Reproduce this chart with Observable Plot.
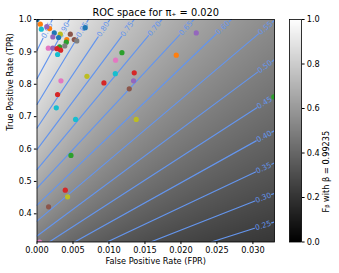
<!DOCTYPE html>
<html><head><meta charset="utf-8">
<script src="https://cdn.jsdelivr.net/npm/d3@7"></script>
<script src="https://cdn.jsdelivr.net/npm/@observablehq/plot@0.6"></script>
<style>
html,body{margin:0;padding:0;background:#fff;}
#wrap{position:relative;width:339px;height:273px;overflow:hidden;}
#wrap svg{position:absolute;left:0;top:0;}
</style></head>
<body><div id="wrap"></div>
<script>
// ---- data ----
const PI_POS = 0.020;
const BETA = 0.99235;
const XMAX = 0.033;
const YMIN = 0.313;
const levels = [0.25,0.30,0.35,0.40,0.45,0.50,0.55,0.60,0.65,0.70,0.75,0.80,0.85,0.90,0.95];
const xTicks = [0,0.005,0.010,0.015,0.020,0.025,0.030];
const yTicks = [0.4,0.5,0.6,0.7,0.8,0.9,1.0];
const cbTicks = [0,0.2,0.4,0.6,0.8,1.0];
const fpr = [0.0000,0.00046,0.00175,0.00136,0.0006,0.0024,0.00324,0.00463,0.0022,0.0030,
  0.00414,0.00518,0.00553,0.00407,0.00386,0.00314,0.00157,0.0022,0.00278,0.00328,
  0.00286,0.0067,0.00333,0.00286,0.00268,0.00536,0.00694,0.0093,0.0118,0.01092,
  0.01088,0.01351,0.01342,0.01282,0.01379,0.02213,0.01935,0.0329,0.00472,0.00393,
  0.00425,0.00161,0.00036];
const tpr = [1.000,0.9855,0.972,0.978,0.970,0.9586,0.9546,0.9546,0.9463,0.9444,
  0.9383,0.9383,0.934,0.930,0.9185,0.9154,0.9114,0.9114,0.910,0.9052,
  0.892,0.9747,0.8105,0.7685,0.7272,0.6914,0.8244,0.8043,0.8975,0.8744,
  0.8327,0.8352,0.8105,0.7858,0.6914,0.9586,0.8898,0.761,0.5802,0.4731,
  0.4525,0.4216,0.313];
const cyc = [0,1,1,4,9,0,8,5,4,0,
  1,5,7,2,7,2,6,4,3,3,
  9,0,6,3,9,9,8,3,2,6,
  9,3,4,5,8,4,1,2,2,3,
  8,5,6];
const title = "ROC space for \u03C0\u208A = 0.020";
const xLabel = "False Positive Rate (FPR)";
const yLabel = "True Positive Rate (TPR)";
const cbLabel = "F\u1D66 with \u03B2 = 0.99235";

// ---- layout ----
const W = 339, H = 273;
const mL = 36.5, mR = 65, mT = 19, mB = 31.5;
const FONT = "DejaVu Sans, sans-serif";
const BLUE = "#6495ED";
const b2 = BETA*BETA;
const fbeta = (F, T) => (1+b2)*PI_POS*T / (PI_POS*T + b2*PI_POS + (1-PI_POS)*F);

const kx = (W - mR - mL) / XMAX;
const ky = (H - mB - mT) / (1 - YMIN);

// contour lines (straight lines in ROC space) with label gaps
const segs = [], labs = [];
for (const c of levels) {
  const a = c*b2/(1+b2-c);
  const s = c*(1-PI_POS)/(PI_POS*(1+b2-c));
  const F0 = Math.max(0, (YMIN - a)/s);
  const F1 = Math.min(XMAX, (1 - a)/s);
  if (F1 <= F0) continue;
  const T0 = a + s*F0, T1 = a + s*F1;
  const dx = (F1-F0)*kx, dy = (T1-T0)*ky;
  const L = Math.hypot(dx, dy);
  const at = l => ({F: F0 + (F1-F0)*l/L, T: T0 + (T1-T0)*l/L});
  const lab = L > 26 ? L - 12 : L/2;
  const g = 9;
  const a1 = Math.max(0, lab-g), b1 = Math.min(L, lab+g);
  if (a1 > 0) segs.push({k: c+"a", ...at(0)}, {k: c+"a", ...at(a1)});
  if (b1 < L) segs.push({k: c+"b", ...at(b1)}, {k: c+"b", ...at(L)});
  const p = at(lab);
  labs.push({...p, c, angle: Math.atan2(-dy, dx)*180/Math.PI});
}

const pts = fpr.map((f, i) => ({f, t: tpr[i], col: d3.schemeCategory10[cyc[i]]}));

const main = Plot.plot({
  width: W, height: H,
  marginLeft: mL, marginRight: mR, marginTop: mT, marginBottom: mB,
  style: {fontFamily: FONT, fontSize: "8.2px", background: "transparent", overflow: "visible", color: "#000"},
  x: {domain: [0, XMAX]},
  y: {domain: [YMIN, 1]},
  color: {type: "linear", domain: [0, 1], range: ["#000000", "#ffffff"]},
  marks: [
    Plot.raster({fill: (x, y) => fbeta(x, y), x1: 0, x2: XMAX, y1: YMIN, y2: 1, pixelSize: 1}),
    Plot.line(segs, {x: "F", y: "T", z: "k", stroke: BLUE, strokeWidth: 1.2, clip: true}),
    Plot.text(labs, {x: "F", y: "T", text: d => d3.format(".2f")(d.c), rotate: "angle", fill: BLUE, fontSize: 7.4}),
    Plot.dot(pts, {x: "f", y: "t", fill: "col", r: 2.6, clip: true}),
    Plot.frame({stroke: "#000", strokeWidth: 0.8}),
    Plot.axisX({ticks: xTicks, tickFormat: d3.format(".3f"), tickSize: 2.6, tickPadding: 2.6, label: null, fontSize: 8.2}),
    Plot.axisY({ticks: yTicks, tickFormat: d3.format(".1f"), tickSize: 2.6, tickPadding: 2.6, label: null, fontSize: 8.2}),
    Plot.text([title], {frameAnchor: "top", dy: -10, fontSize: 9.8, fill: "#000"}),
    Plot.text([xLabel], {frameAnchor: "bottom", dy: 21.5, fontSize: 8.2, fill: "#000"}),
    Plot.text([yLabel], {frameAnchor: "left", dx: -27, rotate: -90, fontSize: 8.2, fill: "#000"})
  ]
});

const cbL = 289, cbR = 301;
const cb = Plot.plot({
  width: W, height: H,
  marginLeft: cbL, marginRight: W - cbR, marginTop: mT, marginBottom: mB,
  style: {fontFamily: FONT, fontSize: "8.2px", background: "transparent", overflow: "visible", color: "#000"},
  x: {domain: [0, 1], axis: null},
  y: {domain: [0, 1]},
  color: {type: "linear", domain: [0, 1], range: ["#000000", "#ffffff"]},
  marks: [
    Plot.raster({fill: (x, y) => y, x1: 0, x2: 1, y1: 0, y2: 1, pixelSize: 1}),
    Plot.frame({stroke: "#000", strokeWidth: 0.8}),
    Plot.axisY({anchor: "right", ticks: cbTicks, tickFormat: d3.format(".1f"), tickSize: 2.6, tickPadding: 2.6, label: null, fontSize: 8.2}),
    Plot.text([cbLabel], {frameAnchor: "right", dx: 25, rotate: -90, fontSize: 8.2, fill: "#000"})
  ]
});

const wrap = document.getElementById("wrap");
wrap.appendChild(main);
wrap.appendChild(cb);
</script></body></html>
